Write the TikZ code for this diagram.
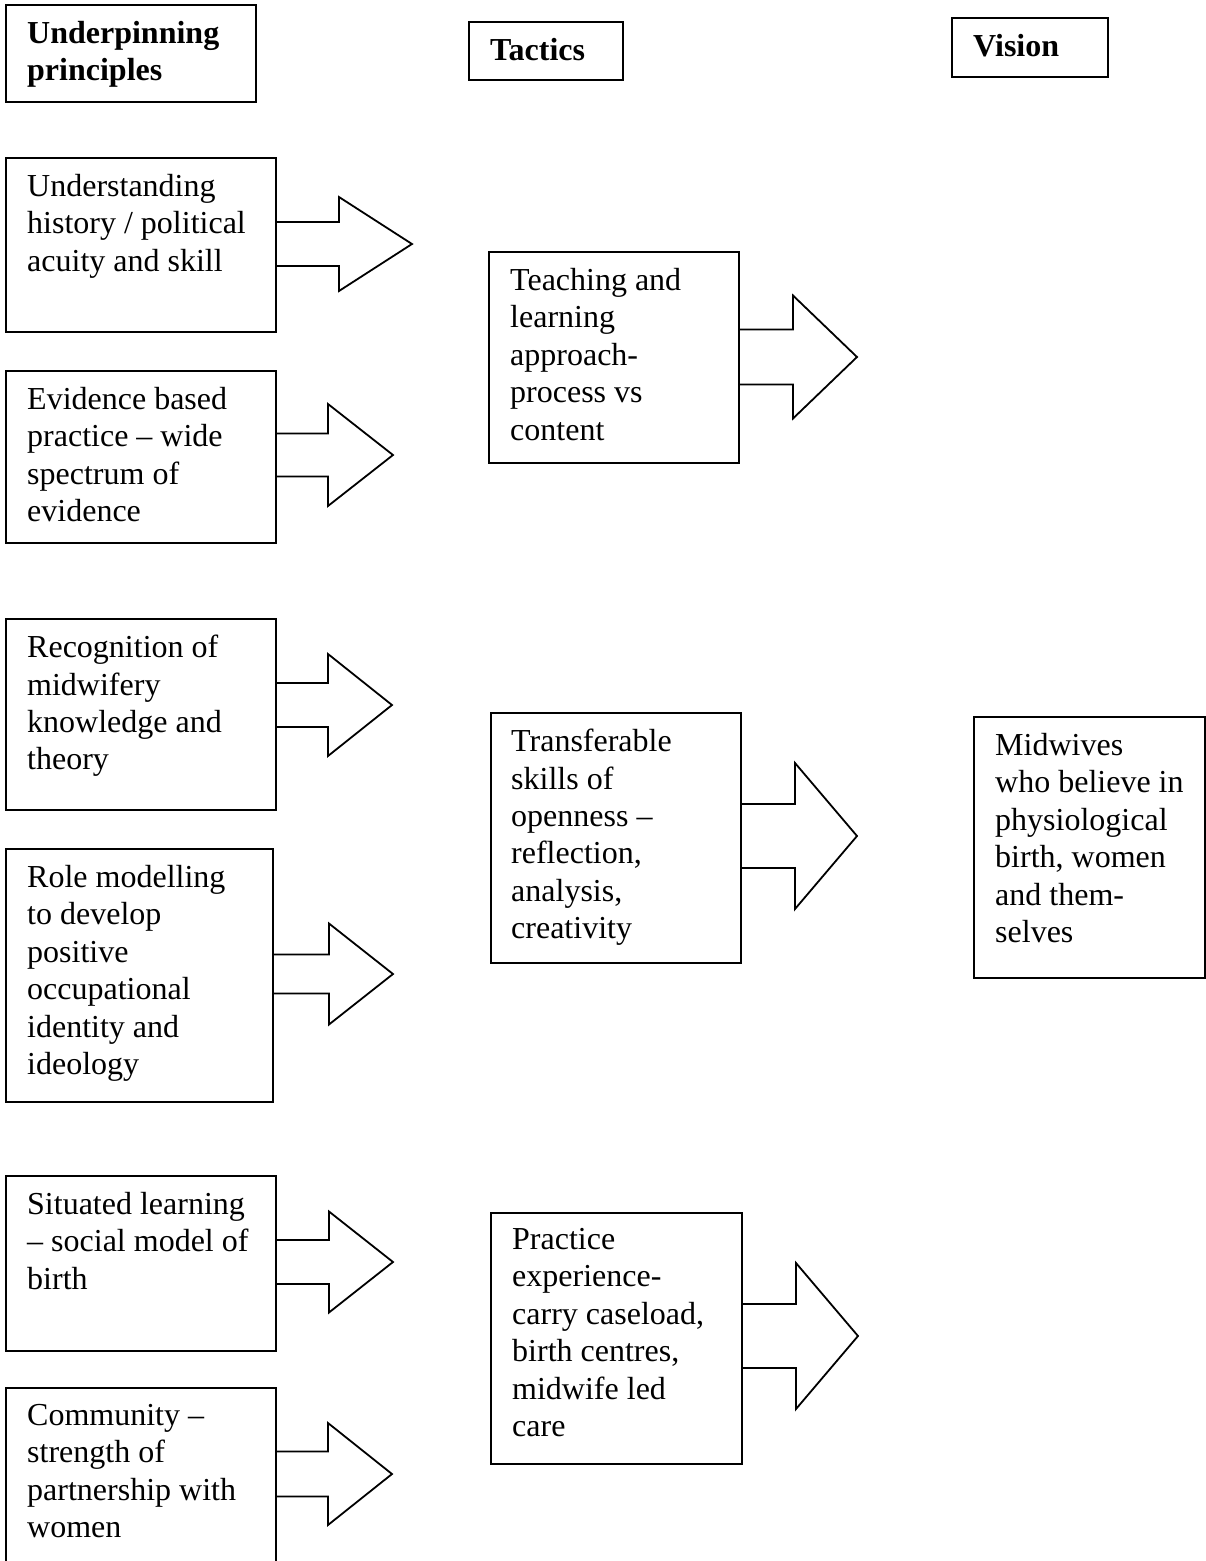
\documentclass[tikz,border=0pt]{standalone}
\usepackage{fontspec}
\setmainfont{Liberation Serif}
\tikzset{
  boxnode/.style={draw, line width=1.8pt, rectangle, inner sep=0pt, outer sep=0pt, anchor=north west},
  txtnode/.style={anchor=north west, inner sep=0pt, align=left,
     font=\fontsize{32}{37.4}\selectfont, execute at begin node=\strut},
  hdrnode/.style={txtnode, font=\fontsize{32}{37.4}\selectfont\bfseries},
  arrline/.style={line width=1.8pt, line join=miter}
}
\newcommand\BArrow[6]{% node, cy, shaft half, head x, head half, tip x
  \pgfmathsetmacro\BAya{#2-#3}\pgfmathsetmacro\BAyb{#2+#3}%
  \pgfmathsetmacro\BAyc{#2-#5}\pgfmathsetmacro\BAyd{#2+#5}%
  \draw[arrline] (#1.east |- 0,\BAya) -- (#4,\BAya) -- (#4,\BAyc) -- (#6,#2) -- (#4,\BAyd) -- (#4,\BAyb) -- (#1.east |- 0,\BAyb);}
\begin{document}
\begin{tikzpicture}[x=1pt,y=-1pt]
\useasboundingbox (0,0) rectangle (1206,1561);
% headers
\node[boxnode, minimum width=250pt, minimum height=97pt] (hp) at (6,5) {};
\node[hdrnode] (hpt) at (27,21) {Underpinning\\principles};
\node[boxnode, minimum width=154pt, minimum height=58pt] (ht) at (469,22) {};
\node[hdrnode] (htt) at (490,34) {Tactics};
\node[boxnode, minimum width=156pt, minimum height=59pt] (hv) at (952,18) {};
\node[hdrnode] (hvt) at (973,30) {Vision};
% left column
\node[boxnode, minimum width=270pt, minimum height=174pt] (A) at (6,158) {};
\node[txtnode] (At) at (27,174) {Understanding\\history / political\\acuity and skill};
\node[boxnode, minimum width=270pt, minimum height=172pt] (B) at (6,371) {};
\node[txtnode] (Bt) at (27,387) {Evidence based\\practice -- wide\\spectrum of\\evidence};
\node[boxnode, minimum width=270pt, minimum height=191pt] (C) at (6,619) {};
\node[txtnode] (Ct) at (27,635) {Recognition of\\midwifery\\knowledge and\\theory};
\node[boxnode, minimum width=267pt, minimum height=253pt] (D) at (6,849) {};
\node[txtnode] (Dt) at (27,865) {Role modelling\\to develop\\positive\\occupational\\identity and\\ideology};
\node[boxnode, minimum width=270pt, minimum height=175pt] (E) at (6,1176) {};
\node[txtnode] (Et) at (27,1192) {Situated learning\\-- social model of\\birth};
\node[boxnode, minimum width=270pt, minimum height=200pt] (F) at (6,1388) {};
\node[txtnode] (Ft) at (27,1404) {Community --\\strength of\\partnership with\\women};
% middle column
\node[boxnode, minimum width=250pt, minimum height=211pt] (G) at (489,252) {};
\node[txtnode] (Gt) at (510,268) {Teaching and\\learning\\approach-\\process vs\\content};
\node[boxnode, minimum width=250pt, minimum height=250pt] (H) at (491,713) {};
\node[txtnode] (Ht) at (511,729) {Transferable\\skills of\\openness --\\reflection,\\analysis,\\creativity};
\node[boxnode, minimum width=251pt, minimum height=251pt] (I) at (491,1213) {};
\node[txtnode] (It) at (512,1228) {Practice\\experience-\\carry caseload,\\birth centres,\\midwife led\\care};
% right column
\node[boxnode, minimum width=231pt, minimum height=261pt] (J) at (974,717) {};
\node[txtnode] (Jt) at (995,733) {Midwives\\who believe in\\physiological\\birth, women\\and them-\\selves};
% block arrows
\BArrow{A}{244}{22}{339}{47}{412}
\BArrow{B}{455}{21.5}{328}{51}{393}
\BArrow{C}{705}{22}{328}{51}{392}
\BArrow{D}{974}{19.5}{329}{50.5}{393}
\BArrow{E}{1262}{22}{329}{50.5}{393}
\BArrow{F}{1474}{22.5}{328}{51}{392}
\BArrow{G}{357}{27.5}{793}{61.5}{857}
\BArrow{H}{836}{32}{795}{73}{857}
\BArrow{I}{1336}{32}{796}{73}{858}
\end{tikzpicture}
\end{document}
